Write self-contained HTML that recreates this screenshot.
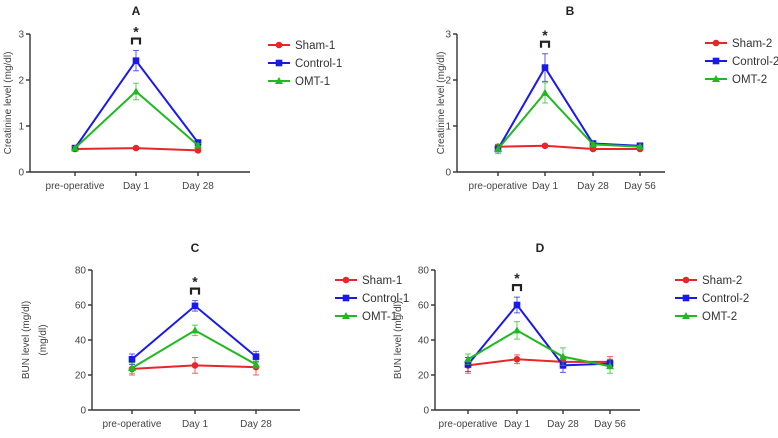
<!DOCTYPE html>
<html><head><meta charset="utf-8"><style>
body{margin:0;background:#fff;}
svg{display:block;font-family:"Liberation Sans",sans-serif;}
</style></head><body>
<svg id="s" width="778" height="438"></svg>
<script>
const catsA=["pre-operative","Day 1","Day 28"];
const catsB=["pre-operative","Day 1","Day 28","Day 56"];
const shamA=[0.5,0.52,0.47], ctrlA=[0.52,2.42,0.64], omtA=[0.52,1.75,0.58];
const shamAErr=[0.03,0.03,0.03], ctrlAErr=[0.03,0.22,0.05], omtAErr=[0.03,0.18,0.04];
const shamB=[0.55,0.57,0.5,0.5], ctrlB=[0.5,2.27,0.62,0.57], omtB=[0.5,1.72,0.6,0.55];
const shamBErr=[0.05,0.03,0.03,0.03], ctrlBErr=[0.05,0.3,0.04,0.03], omtBErr=[0.1,0.22,0.04,0.03];
const shamC=[23.5,25.5,24.5], ctrlC=[29,59.5,30.5], omtC=[24,45.5,26];
const shamCErr=[3.5,4.5,4.5], ctrlCErr=[3,3,3], omtCErr=[3,3,2];
const shamD=[25.5,29,27.5,27.5], ctrlD=[26,60,25.5,26.5], omtD=[29,45.5,30.5,25];
const shamDErr=[4.5,2.5,3,3], ctrlDErr=[4,4.5,4,2], omtDErr=[3,5,5,4];
const ticksCr=[0,1,2,3], ticksBun=[0,20,40,60,80];

const NS="http://www.w3.org/2000/svg", svg=document.getElementById('s');
function el(t,a,p){const e=document.createElementNS(NS,t);for(const k in a)e.setAttribute(k,a[k]);(p||svg).appendChild(e);return e;}

const panels=[
 {id:'a',title:'A',ax:30,end:250,y0:172,yTop:34,max:3,ticks:ticksCr,cats:catsA,cx:[75,136,198],
  ser:[[shamA,shamAErr],[ctrlA,ctrlAErr],[omtA,omtAErr]],names:['Sham-1','Control-1','OMT-1'],
  lg:[268,45],ylab:['Creatinine level (mg/dl)'],ylx:11,tx:136,ty:15},
 {id:'b',title:'B',ax:457,end:665,y0:172,yTop:34,max:3,ticks:ticksCr,cats:catsB,cx:[498,545,593,640],
  ser:[[shamB,shamBErr],[ctrlB,ctrlBErr],[omtB,omtBErr]],names:['Sham-2','Control-2','OMT-2'],
  lg:[705,43],ylab:['Creatinine level (mg/dl)'],ylx:444,tx:570,ty:15},
 {id:'c',title:'C',ax:92,end:300,y0:410,yTop:270,max:80,ticks:ticksBun,cats:catsA,cx:[132,195,256],
  ser:[[shamC,shamCErr],[ctrlC,ctrlCErr],[omtC,omtCErr]],names:['Sham-1','Control-1','OMT-1'],
  lg:[335,280],ylab:['BUN level (mg/dl)','(mg/dl)'],ylx:29,tx:195,ty:252},
 {id:'d',title:'D',ax:435,end:640,y0:410,yTop:270,max:80,ticks:ticksBun,cats:catsB,cx:[468,517,563,610],
  ser:[[shamD,shamDErr],[ctrlD,ctrlDErr],[omtD,omtDErr]],names:['Sham-2','Control-2','OMT-2'],
  lg:[675,280],ylab:['BUN level (mg/dl)'],ylx:401,tx:540,ty:252}
];
const cols=['#e8252a','#1a1ae6','#22b822'];

function marker(g,k,x,y,c){
  if(k===0)el('circle',{cx:x,cy:y,r:3.3,fill:c},g);
  else if(k===1)el('rect',{x:x-3.3,y:y-3.3,width:6.6,height:6.6,fill:c},g);
  else el('polygon',{points:`${x},${y-4} ${x-4},${y+3} ${x+4},${y+3}`,fill:c},g);
}

panels.forEach(p=>{
  const g=el('g',{});
  
  
  const Y=v=>p.y0-(v/p.max)*(p.y0-p.yTop);
  const t=el('text',{x:p.tx,y:p.ty,'text-anchor':'middle','font-size':12,'font-weight':'bold',fill:'#222'},g);
  t.textContent=p.title;
  
  
  const axis=el('g',{stroke:'#333','stroke-width':1.4,fill:'none'},g);
  
  
  el('line',{x1:p.ax,y1:p.yTop,x2:p.ax,y2:p.y0},axis);
  el('line',{x1:p.ax,y1:p.y0,x2:p.end,y2:p.y0},axis);
  p.ticks.forEach(v=>{
    el('line',{x1:p.ax-4,y1:Y(v),x2:p.ax,y2:Y(v)},axis);
    const tt=el('text',{x:p.ax-6,y:Y(v)+3.5,'text-anchor':'end','font-size':10,fill:'#444'},g);
    tt.textContent=v;
    
    
  });
  p.cats.forEach((c,i)=>{
    el('line',{x1:p.cx[i],y1:p.y0,x2:p.cx[i],y2:p.y0+4},axis);
    const tt=el('text',{x:p.cx[i],y:p.y0+17,'text-anchor':'middle','font-size':10,fill:'#444'},g);
    tt.textContent=c;
    
    
  });
  const yl=el('text',{transform:`translate(${p.ylx},${(p.y0+p.yTop)/2}) rotate(-90)`,'text-anchor':'middle','font-size':10,fill:'#444'},g);
  p.ylab.forEach((s,i)=>{const ts=el('tspan',{x:0,dy:i?17:0},yl);ts.textContent=s;});
  
  
  p.ser.forEach(([vals,errs],k)=>{
    const sg=el('g',{},g);
    
    
    const c=cols[k];
    vals.forEach((v,i)=>{
      const x=p.cx[i];
      el('line',{x1:x,y1:Y(v-errs[i]),x2:x,y2:Y(v+errs[i]),stroke:c,'stroke-width':1,opacity:0.7},sg);
      el('line',{x1:x-3,y1:Y(v+errs[i]),x2:x+3,y2:Y(v+errs[i]),stroke:c,'stroke-width':1,opacity:0.7},sg);
      el('line',{x1:x-3,y1:Y(v-errs[i]),x2:x+3,y2:Y(v-errs[i]),stroke:c,'stroke-width':1,opacity:0.7},sg);
    });
    el('polyline',{points:vals.map((v,i)=>p.cx[i]+','+Y(v)).join(' '),fill:'none',stroke:c,'stroke-width':2},sg);
    vals.forEach((v,i)=>marker(sg,k,p.cx[i],Y(v),c));
  });
  const ctrl=p.ser[1][0][1]+p.ser[1][1][1];
  const bx=p.cx[1], by=Y(ctrl)-6;
  const br=el('path',{d:`M${bx-4},${by} V${by-6} H${bx+4} V${by}`,stroke:'#222','stroke-width':2.2,fill:'none'},g);
  
  
  const st=el('text',{x:bx,y:by-8,'text-anchor':'middle','font-size':14,'font-weight':'bold',fill:'#222'},g);
  st.textContent='*';
  
  
  p.names.forEach((n,k)=>{
    const lg=el('g',{},g);
    
    
    const y=p.lg[1]+k*18, x=p.lg[0];
    el('line',{x1:x,y1:y,x2:x+22,y2:y,stroke:cols[k],'stroke-width':2},lg);
    marker(lg,k,x+11,y,cols[k]);
    const tt=el('text',{x:x+27,y:y+4,'font-size':11.5,fill:'#333'},lg);
    tt.textContent=n;
  });
});
</script>
</body></html>
